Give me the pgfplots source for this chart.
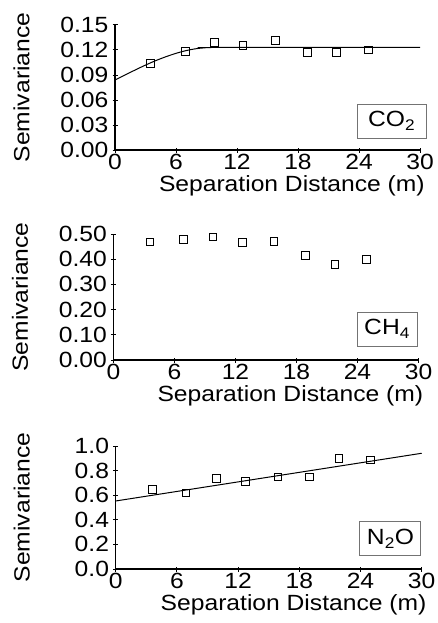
\documentclass[border=0pt]{standalone}
\usepackage{fontspec}
\setmainfont[FakeStretch=1.12]{Liberation Sans}
\usepackage{pgfplots}
\pgfplotsset{compat=1.18}
\tikzset{
  boxstyle/.style={draw=black!55, line width=1pt, inner sep=0pt, font=\fontsize{22}{22}\selectfont, minimum height=34pt, align=center},
}
\pgfplotsset{
  semistyle/.style={
    scale only axis,
    axis x line=bottom, axis y line=left,
    axis line style={-, line width=1.1pt},
    xmin=0, xmax=30,
    xtick={0,6,12,18,24,30},
    tick style={black, line width=1pt},
    tick align=center,
    major tick length=5pt,
    tick label style={font=\fontsize{22}{22}\selectfont},
    label style={font=\fontsize{22}{22}\selectfont},
    xticklabel style={inner sep=0pt, anchor=north, yshift=-1pt},
    yticklabel style={inner sep=0pt, xshift=-4pt},
    /pgf/number format/assume math mode=true,
    xlabel={Separation Distance (m)},
    ylabel={Semivariance},
    xlabel style={at={(axis description cs:1.016,0)}, anchor=north east, yshift=-25pt, inner sep=0pt},
    ylabel style={at={(axis description cs:-0.334,0.5)}, anchor=north, inner sep=0pt},
    clip=false,
  },
  markstyle/.style={only marks, mark=square, mark size=3.8pt, mark options={black, line width=0.9pt}},
}
\begin{document}
\begin{tikzpicture}
\useasboundingbox (0,0) rectangle (438pt,-623pt);
% CO2
\begin{axis}[semistyle, at={(115pt,-150pt)}, anchor=south west,
  width=305pt, height=125pt,
  ymin=0, ymax=0.15, ytick={0,0.03,0.06,0.09,0.12,0.15},
  yticklabel style={/pgf/number format/.cd, fixed, fixed zerofill, precision=2}]
\addplot[black, line width=1pt, smooth] coordinates {
(0,0.0840) (1,0.0901) (2,0.0961) (3,0.1019) (4,0.1072) (5,0.1119) (6,0.1160)
(7,0.1193) (8,0.1216) (9,0.1228) (9.5,0.1230) (30,0.1230)};
\addplot[markstyle] coordinates {
(3.5,0.1039) (6.9,0.1179) (9.8,0.1292) (12.6,0.1256) (15.8,0.1316)
(18.9,0.1172) (21.8,0.1172) (24.9,0.1200)};
\node[boxstyle, minimum width=69pt] at (rel axis cs:0.907,0.232) {CO\textsubscript{2}};
\end{axis}
% CH4
\begin{axis}[semistyle, at={(113.5pt,-360pt)}, anchor=south west,
  width=305pt, height=126pt,
  ymin=0, ymax=0.5, ytick={0,0.1,0.2,0.3,0.4,0.5},
  yticklabel style={/pgf/number format/.cd, fixed, fixed zerofill, precision=2}]
\addplot[markstyle] coordinates {
(3.6,0.468) (6.9,0.479) (9.8,0.488) (12.7,0.467) (15.8,0.471)
(18.9,0.414) (21.8,0.379) (24.9,0.399)};
\node[boxstyle, minimum width=60pt] at (rel axis cs:0.897,0.246) {CH\textsubscript{4}};
\end{axis}
% N2O
\begin{axis}[semistyle, at={(115.7pt,-569pt)}, anchor=south west,
  width=306pt, height=123pt,
  ymin=0, ymax=1.0, ytick={0,0.2,0.4,0.6,0.8,1.0},
  yticklabel style={/pgf/number format/.cd, fixed, fixed zerofill, precision=1}]
\addplot[black, line width=1pt] coordinates {(0,0.553) (30,0.941)};
\addplot[markstyle] coordinates {
(3.6,0.645) (6.9,0.618) (9.9,0.735) (12.7,0.713) (15.9,0.748)
(19.0,0.748) (21.9,0.900) (25.0,0.886)};
\node[boxstyle, minimum width=61pt] at (rel axis cs:0.898,0.244) {N\textsubscript{2}O};
\end{axis}
\end{tikzpicture}
\end{document}
